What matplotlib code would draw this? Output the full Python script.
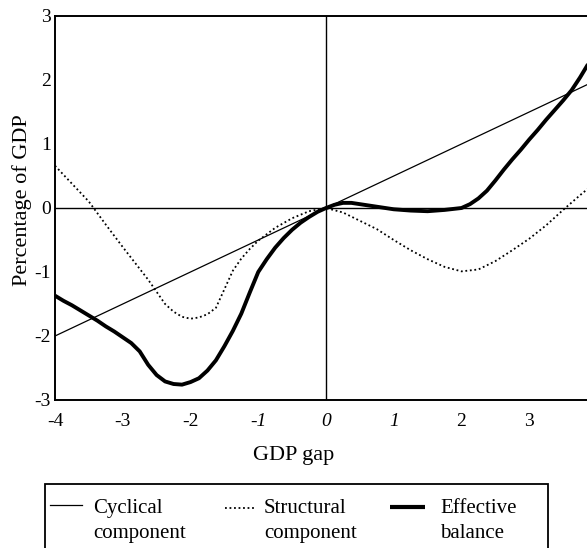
import matplotlib.pyplot as plt
from matplotlib.lines import Line2D
from matplotlib.patches import Rectangle

plt.rcParams['font.family'] = ['Liberation Serif', 'DejaVu Serif']

# cyclical component is a straight line
cyc_x = [-4.0, 4.0]
cyc_y = [-2.0, 2.0]

# structural component (dotted)
str_x = [-4.0, -3.75, -3.5, -3.25, -3.0, -2.875, -2.75, -2.625, -2.5, -2.375, -2.25, -2.125, -2.0,
         -1.875, -1.75, -1.625, -1.5, -1.375, -1.25, -1.125, -1.0, -0.75, -0.5, -0.25, 0.0,
         0.25, 0.5, 0.75, 1.0, 1.25, 1.5, 1.75, 2.0, 2.25, 2.5, 2.75, 3.0, 3.25, 3.5, 3.75, 4.0]
str_y = [0.66, 0.38, 0.10, -0.26, -0.61, -0.78, -0.95, -1.12, -1.31, -1.50, -1.62, -1.70, -1.73,
         -1.71, -1.66, -1.56, -1.27, -0.98, -0.79, -0.64, -0.51, -0.31, -0.16, -0.05, 0.0,
         -0.07, -0.2, -0.33, -0.5, -0.66, -0.8, -0.92, -0.99, -0.96, -0.83, -0.66, -0.48, -0.27, -0.03, 0.2, 0.42]

# effective balance (thick)
eff_x = [-4.0, -3.875, -3.75, -3.625, -3.5, -3.375, -3.25, -3.125, -3.0, -2.875, -2.75, -2.625, -2.5,
         -2.375, -2.25, -2.125, -2.0, -1.875, -1.75, -1.625, -1.5, -1.375, -1.25, -1.125, -1.0,
         -0.875, -0.75, -0.625, -0.5, -0.375, -0.25, -0.125, 0.0, 0.125, 0.25, 0.375, 0.5, 0.75,
         1.0, 1.25, 1.5, 1.75, 2.0, 2.125, 2.25, 2.375, 2.5, 2.625, 2.75, 2.875, 3.0, 3.125, 3.25,
         3.375, 3.5, 3.625, 3.75, 3.875, 4.0]
eff_y = [-1.37, -1.45, -1.52, -1.60, -1.68, -1.76, -1.85, -1.93, -2.02, -2.11, -2.24, -2.45, -2.61,
         -2.71, -2.75, -2.76, -2.72, -2.66, -2.54, -2.38, -2.16, -1.92, -1.65, -1.32, -1.0,
         -0.8, -0.62, -0.47, -0.34, -0.23, -0.14, -0.06, 0.0, 0.05, 0.08, 0.08, 0.06, 0.02,
         -0.02, -0.04, -0.05, -0.03, 0.0, 0.06, 0.15, 0.27, 0.43, 0.60, 0.76, 0.91, 1.07, 1.22, 1.38,
         1.53, 1.68, 1.84, 2.04, 2.26, 2.48]

xticks = [-4, -3, -2, -1, 0, 1, 2, 3, 4]
xtick_labels = ['-4', '-3', '-2', '-1', '0', '1', '2', '3', '4']
yticks = [-3, -2, -1, 0, 1, 2, 3]
ytick_labels = ['-3', '-2', '-1', '0', '1', '2', '3']

W, H = 587, 548
fig = plt.figure(figsize=(W / 100, H / 100), dpi=100)
ax = fig.add_axes([55 / W, 148 / H, 542 / W, 384 / H])
ax.set_xlim(-4, 4)
ax.set_ylim(-3, 3)

ax.axhline(0, color='black', lw=1.0)
ax.axvline(0, color='black', lw=1.0)

ax.plot(cyc_x, cyc_y, color='black', lw=0.9)
ax.plot(str_x, str_y, color='black', lw=1.3, linestyle=(0, (1, 1.5)))
ax.plot(eff_x, eff_y, color='black', lw=2.8, solid_joinstyle='round', solid_capstyle='butt')

for s in ax.spines.values():
    s.set_linewidth(1.4)

ax.set_xticks(xticks)
ax.set_xticklabels(xtick_labels)
ax.set_yticks(yticks)
ax.set_yticklabels(ytick_labels)
ax.tick_params(axis='both', length=0, labelsize=14)
ax.tick_params(axis='x', pad=9)
ax.tick_params(axis='y', pad=3)
for lbl in ax.get_xticklabels():
    if lbl.get_text() in ('-1', '0', '1'):
        lbl.set_style('italic')

ax.set_ylabel('Percentage of GDP', fontsize=16)
ax.yaxis.set_label_coords(-0.042, 0.52)
ax.set_xlabel('GDP gap', fontsize=16)
ax.xaxis.set_label_coords((294 - 55) / 542, -0.12)

# legend box, drawn by hand so the handles sit on the first text line
fig.patches.append(Rectangle((45 / W, -0.05), 503 / W, 0.05 + 1 - 484 / H, transform=fig.transFigure,
                             fill=False, edgecolor='black', lw=1.3))
fig.lines.append(Line2D([50 / W, 82 / W], [1 - 505 / H] * 2, transform=fig.transFigure,
                        color='black', lw=0.9))
fig.lines.append(Line2D([225 / W, 255 / W], [1 - 508 / H] * 2, transform=fig.transFigure,
                        color='black', lw=1.3, linestyle=(0, (1, 1.5))))
fig.lines.append(Line2D([390 / W, 425 / W], [1 - 507 / H] * 2, transform=fig.transFigure,
                        color='black', lw=3.0, solid_capstyle='butt'))

legend_items = [(93, 'Cyclical', 'component'), (264, 'Structural', 'component'), (440, 'Effective', 'balance')]
for lx, l1, l2 in legend_items:
    fig.text(lx / W, 1 - 513 / H, l1, fontsize=15, va='baseline', ha='left')
    fig.text(lx / W, 1 - 538 / H, l2, fontsize=15, va='baseline', ha='left')

fig.savefig('out.png', dpi=100)
